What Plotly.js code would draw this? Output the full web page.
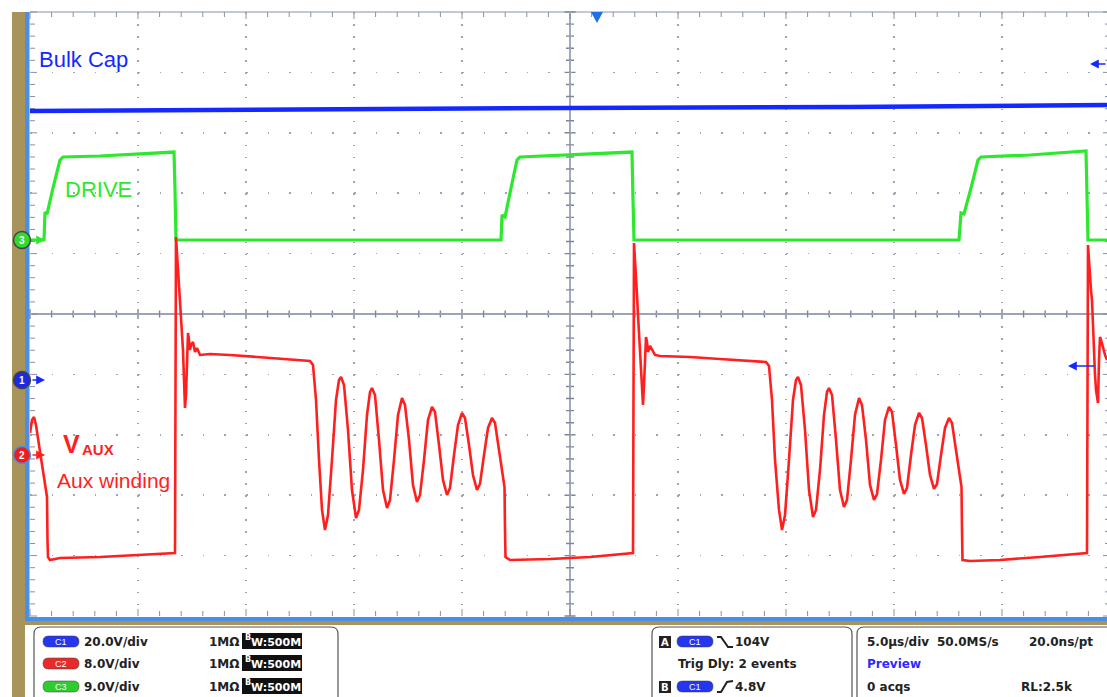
<!DOCTYPE html>
<html><head><meta charset="utf-8">
<script src="https://cdn.plot.ly/plotly-3.0.1.min.js"></script>
<style>html,body{margin:0;padding:0;background:#fff;overflow:hidden}#chart{width:1107px;height:697px}</style>
</head><body><div id="chart"></div>
<script>
// ---- data (time in µs, voltage in V) ----
const bulkT = [-25.0, -12.5, 0.0, 12.96, 24.86];
const bulkV = [89.07, 89.74, 90.07, 90.40, 91.06];

const driveT = [-25.0,-24.444,-24.352,-24.306,-24.213,-23.935,-23.611,-23.472,-21.759,-19.907,-18.333,-18.287,-18.241,-12.5,-3.194,-3.148,-3.009,-2.731,-2.454,-2.315,0.0,2.870,2.917,2.963,10.648,18.009,18.102,18.241,18.565,18.889,19.028,21.296,23.889,23.935,23.981,24.861];
const driveV = [0,0,0,4.17,3.87,7.75,11.92,12.37,12.52,12.82,13.11,7.45,0,0,0,3.73,3.43,7.75,11.92,12.37,12.67,13.11,5.96,0,0,0,4.02,3.87,7.75,11.92,12.37,12.67,13.26,3.43,0,0];

const auxT = [
-25.000,-24.907,-24.815,-24.722,-24.583,-24.444,-24.306,-24.213,-24.190,-24.167,-24.074,-23.611,-21.759,-19.907,-18.287,
-18.241,-18.194,-18.148,-18.102,-18.056,-18.009,-17.963,-17.917,-17.870,-17.824,-17.778,-17.731,-17.685,-17.639,-17.593,-17.546,-17.454,-17.361,-17.269,-17.130,-16.667,-15.741,-14.352,-12.963,-12.037,
-11.898,-11.759,-11.620,-11.481,-11.343,-11.204,-11.019,-10.833,-10.694,-10.602,-10.463,-10.278,-10.093,-9.907,-9.769,-9.583,-9.398,-9.259,-9.167,-9.028,-8.843,-8.657,-8.472,-8.333,-8.148,-7.963,-7.778,-7.639,-7.454,-7.269,-7.083,-6.944,-6.759,-6.574,-6.389,-6.250,-6.065,-5.880,-5.694,-5.556,-5.370,-5.185,-5.000,-4.861,-4.676,-4.491,-4.306,-4.167,-3.981,-3.796,-3.611,-3.472,-3.287,-3.102,-3.032,-3.009,-2.986,-2.778,-0.926,0.926,2.917,
2.963,3.009,3.056,3.102,3.148,3.194,3.241,3.287,3.333,3.380,3.426,3.472,3.519,3.565,3.611,3.704,3.796,3.935,4.167,5.556,6.944,8.333,9.074,
9.213,9.352,9.491,9.676,9.815,9.954,10.139,10.324,10.463,10.556,10.694,10.880,11.065,11.250,11.389,11.574,11.759,11.898,11.991,12.130,12.315,12.500,12.685,12.824,13.009,13.194,13.380,13.519,13.704,13.889,14.074,14.213,14.398,14.583,14.769,14.907,15.093,15.278,15.463,15.602,15.787,15.972,16.157,16.296,16.481,16.667,16.852,16.991,17.176,17.361,17.546,17.685,17.870,18.056,18.125,18.148,18.171,18.519,19.907,21.759,23.935,
23.981,24.028,24.074,24.120,24.167,24.213,24.259,24.306,24.352,24.398,24.444,24.491,24.537,24.583,24.676,24.769,24.861];
const auxV = [
2.91,4.64,5.03,3.97,1.32,-1.32,-3.58,-5.56,-11.26,-13.51,-13.91,-13.64,-13.51,-13.25,-12.98,
28.87,26.49,25.17,22.52,20.53,18.54,16.56,13.91,9.93,6.23,7.95,12.58,16.16,15.23,13.91,14.57,14.97,13.64,14.17,13.25,13.38,13.25,12.98,12.72,12.45,
11.92,7.28,-0.66,-7.28,-9.93,-7.95,-0.66,7.28,9.93,10.33,9.27,3.31,-4.64,-8.34,-7.28,-1.99,5.30,8.34,8.87,7.95,1.99,-4.64,-7.02,-5.96,-0.66,5.30,7.55,6.62,1.99,-3.97,-6.23,-5.30,-0.66,4.64,6.36,5.70,1.32,-3.31,-5.30,-4.37,0.00,3.97,5.56,4.90,1.32,-2.65,-4.64,-3.84,0.00,3.58,4.90,4.24,0.66,-3.31,-4.24,-9.93,-13.51,-13.91,-13.77,-13.51,-12.98,
28.08,26.09,23.84,21.19,18.54,15.89,13.25,10.60,7.95,6.62,9.27,13.91,15.63,14.97,13.64,14.44,13.91,13.25,13.11,12.98,12.72,12.45,12.32,
11.79,7.28,-0.66,-7.28,-9.93,-7.95,-0.66,7.28,9.93,10.33,9.27,3.31,-4.64,-8.21,-7.28,-1.99,5.30,8.34,8.87,7.95,1.99,-4.64,-6.89,-5.96,-0.66,5.30,7.55,6.62,1.99,-3.97,-5.96,-5.17,-0.66,4.64,6.36,5.70,1.32,-3.31,-5.17,-4.37,0.00,3.97,5.56,4.90,1.32,-2.65,-4.50,-3.84,0.00,3.58,4.90,4.24,0.66,-3.31,-4.24,-9.93,-13.91,-14.04,-13.91,-13.51,-12.98,
27.81,26.23,23.84,21.85,20.53,17.22,13.25,10.60,8.61,7.28,6.89,12.58,15.63,15.23,14.17,13.25,12.58];

const channelNames = ['C1', 'C2', 'C3'];
const voltsPerDiv = [20.0, 8.0, 9.0];
const groundDiv = [-1.093, -2.334, 1.225];   // channel ground marker, in divisions from centre
const channelLabels = ['Bulk Cap', 'DRIVE', 'Aux winding'];
const infoScale = ['20.0V/div', '8.0V/div', '9.0V/div'];
const timeInfo = ['5.0µs/div', '50.0MS/s', '20.0ns/pt', 'Preview', '0 acqs', 'RL:2.5k'];
const trigInfo = ['104V', 'Trig Dly: 2 events', '4.8V'];

// volts -> screen divisions for channel i (scope vertical scale + position)
const toDiv = (vals, i) => vals.map(v => v / voltsPerDiv[i] + groundDiv[i]);

// ---- colours / geometry (styling only) ----
const BLUE = '#1428ff', RED = '#ff1f1f', GREEN = '#2ee82e';
const L = 30, T = 12, W = 1077, H = 604;
const X = p => (p - L) / W, Y = p => (T + H - p) / H;

const gridCol = '#9da5b6', tickCol = '#8890a4', axCol = '#7c869a';
const UIF = 'DejaVu Sans, Verdana, sans-serif';
const ARF = 'Liberation Sans, Arial, sans-serif';

function rect(x0, y0, x1, y1, fill, line) {
  return {type:'rect', xref:'paper', yref:'paper', x0:X(x0), x1:X(x1), y0:Y(y1), y1:Y(y0),
          fillcolor:fill, line:line || {width:0}, layer:'above'};
}
function P(x, y) { return X(x).toFixed(5) + ',' + Y(y).toFixed(5); }
function rr(x0, y0, x1, y1, r) {
  return 'M' + P(x0 + r, y0) + ' L' + P(x1 - r, y0) + ' Q' + P(x1, y0) + ' ' + P(x1, y0 + r) +
    ' L' + P(x1, y1 - r) + ' Q' + P(x1, y1) + ' ' + P(x1 - r, y1) + ' L' + P(x0 + r, y1) +
    ' Q' + P(x0, y1) + ' ' + P(x0, y1 - r) + ' L' + P(x0, y0 + r) + ' Q' + P(x0, y0) + ' ' + P(x0 + r, y0) + ' Z';
}
function pathShape(d, fill, line, layer) {
  return {type:'path', xref:'paper', yref:'paper', path:d, fillcolor:fill, line:line || {width:0}, layer:layer || 'above'};
}
function txt(x, y, s, size, color, family, weight, anchor) {
  return {xref:'paper', yref:'paper', x:X(x), y:Y(y), text:s, showarrow:false,
          xanchor:anchor || 'left', yanchor:'middle', borderpad:0,
          font:{size:size, color:color, family:family, weight:weight || 'normal'}};
}
function arrow(xTip, y, dx, color) {
  return {xref:'paper', yref:'paper', x:X(xTip), y:Y(y), ax:dx, ay:0, text:'', showarrow:true,
          arrowhead:2, arrowsize:1.1, arrowwidth:1.6, arrowcolor:color};
}

const shapes = [];
const annotations = [];

// graticule ticks (frame edges and centre cross), 5 minor per division
const DX = 21.6, DY = 12.08, XC = 570, YC = 314, RIGHT = 1110, BOT = 616;
let edge = 'M' + P(L, T) + ' L' + P(RIGHT, T);
let cross = 'M' + P(L, YC) + ' L' + P(RIGHT, YC) + ' M' + P(XC, T) + ' L' + P(XC, BOT);
for (let i = 0; i <= 50; i++) {
  const px = L + i * DX, major = i % 5 === 0;
  const le = major ? 7 : 5, lc = major ? 5 : 3.5;
  edge += ' M' + P(px, T) + ' L' + P(px, T + le) + ' M' + P(px, BOT) + ' L' + P(px, BOT - le);
  cross += ' M' + P(px, YC - lc) + ' L' + P(px, YC + lc);
  const py = T + i * DY;
  edge += ' M' + P(L, py) + ' L' + P(L + le, py) + ' M' + P(RIGHT, py) + ' L' + P(RIGHT - le, py);
  cross += ' M' + P(XC - lc - 0.5, py) + ' L' + P(XC + lc + 0.5, py);
}
shapes.push(pathShape(edge, 'rgba(0,0,0,0)', {color:tickCol, width:1}, 'below'));
shapes.push(pathShape(cross, 'rgba(0,0,0,0)', {color:axCol, width:1.4}, 'below'));

// scope frame
shapes.push(rect(12, 12, 25, 697, '#a8935a'));
shapes.push(rect(12, 621, 1107, 625, '#a8935a'));
shapes.push(rect(25, 12, 29.5, 621, '#4b8ee6'));
shapes.push(rect(25, 617, 1107, 621, '#4b8ee6'));
// trigger position triangle
shapes.push(pathShape('M' + P(591, 12) + ' L' + P(603, 12) + ' L' + P(597, 23) + ' Z', '#1f6fe8'));

// channel ground markers
const markerY = [380, 455, 240];
const markerFill = ['#1d2ae0', '#ee1c1c', '#30d830'];
const markerLine = ['#444', '#4b8ee6', '#444'];
const traceCol = [BLUE, RED, GREEN];
for (let i = 0; i < 3; i++) {
  shapes.push({type:'circle', xref:'paper', yref:'paper', x0:X(13.5), x1:X(30.5), y0:Y(markerY[i] + 8.5), y1:Y(markerY[i] - 8.5),
               fillcolor:markerFill[i], line:{color:markerLine[i], width:1.5}, layer:'above'});
  annotations.push(txt(22, markerY[i], String(i + 1), 10, '#fff', ARF, 'bold', 'center'));
  annotations.push(arrow(45, markerY[i], -14, traceCol[i]));
}
// right-side offset arrows
annotations.push(arrow(1090, 64, 18, BLUE));
annotations.push(arrow(1068, 366, 28, BLUE));

// waveform labels
annotations.push(txt(38, 59, channelLabels[0], 22, BLUE, ARF));
annotations.push(txt(64, 189, channelLabels[1], 22, GREEN, ARF));
annotations.push(txt(62, 444, 'V', 25, RED, ARF, 'bold'));
annotations.push(txt(81, 449, 'AUX', 15, RED, ARF, 'bold'));
annotations.push(txt(56, 480, channelLabels[2], 21, RED, ARF));

// info panel boxes
shapes.push(pathShape(rr(34, 627, 338, 712, 7), 'rgba(0,0,0,0)', {color:'#555', width:1.2}));
shapes.push(pathShape(rr(652, 627, 852, 712, 7), 'rgba(0,0,0,0)', {color:'#555', width:1.2}));
shapes.push(pathShape(rr(857, 627, 1114, 712, 7), 'rgba(0,0,0,0)', {color:'#555', width:1.2}));

function pill(x0, yc, color, label) {
  shapes.push(pathShape(rr(x0, yc - 5.5, x0 + 36, yc + 5.5, 5.5), color, {color:'rgba(60,60,60,0.5)', width:1}));
  annotations.push(txt(x0 + 18, yc, label, 9, '#fff', ARF, 'normal', 'center'));
}
const rowY = [642, 664, 687];
const pillCol = ['#2536f0', '#e82a2a', '#2fcc2f'];
for (let i = 0; i < 3; i++) {
  pill(43, rowY[i] - 0.5, pillCol[i], channelNames[i]);
  annotations.push(txt(83, rowY[i], infoScale[i], 12, '#222', UIF, 'bold'));
  annotations.push(txt(208, rowY[i], '1MΩ', 12, '#222', UIF, 'bold'));
  shapes.push(rect(242, rowY[i] - 9, 302, rowY[i] + 7, '#111'));
  annotations.push(txt(244, rowY[i] - 4.5, 'B', 8, '#fff', UIF, 'bold'));
  annotations.push(txt(250, rowY[i] + 0.5, 'W:500M', 11, '#fff', UIF, 'bold'));
}
// trigger box
shapes.push(rect(659, 636, 671, 648, '#222'));
annotations.push(txt(665, 642, 'A', 10, '#fff', UIF, 'bold', 'center'));
pill(677, 641.5, pillCol[0], channelNames[0]);
shapes.push(pathShape('M' + P(717, 637) + ' L' + P(721, 637) + ' L' + P(728, 647) + ' L' + P(733, 647), 'rgba(0,0,0,0)', {color:'#222', width:2}));
annotations.push(txt(734, rowY[0], trigInfo[0], 12, '#222', UIF, 'bold'));
annotations.push(txt(677, rowY[1], trigInfo[1], 12, '#222', UIF, 'bold'));
shapes.push(rect(659, 681, 671, 693, '#222'));
annotations.push(txt(665, 687, 'B', 10, '#fff', UIF, 'bold', 'center'));
pill(677, 686.5, pillCol[0], channelNames[0]);
shapes.push(pathShape('M' + P(717, 692) + ' L' + P(721, 692) + ' L' + P(727, 682) + ' L' + P(733, 681), 'rgba(0,0,0,0)', {color:'#222', width:2}));
annotations.push(txt(734, rowY[2], trigInfo[2], 12, '#222', UIF, 'bold'));
// timebase box
annotations.push(txt(866, rowY[0], timeInfo[0], 12, '#222', UIF, 'bold'));
annotations.push(txt(936, rowY[0], timeInfo[1], 12, '#222', UIF, 'bold'));
annotations.push(txt(1028, rowY[0], timeInfo[2], 12, '#222', UIF, 'bold'));
annotations.push(txt(866, rowY[1], timeInfo[3], 12, '#2b2bff', UIF, 'bold'));
annotations.push(txt(866, rowY[2], timeInfo[4], 12, '#222', UIF, 'bold'));
annotations.push(txt(1020, rowY[2], timeInfo[5], 12, '#222', UIF, 'bold'));

// ---- traces ----
const traces = [
  {x:bulkT, y:toDiv(bulkV, 0), mode:'lines', line:{color:BLUE, width:4.5}, name:channelNames[0], hoverinfo:'skip'},
  {x:driveT, y:toDiv(driveV, 2), mode:'lines', line:{color:GREEN, width:3.2}, name:channelNames[2], hoverinfo:'skip'},
  {x:auxT, y:toDiv(auxV, 1), mode:'lines', line:{color:RED, width:2.6}, name:channelNames[1], hoverinfo:'skip'}
];

const layout = {
  width:1107, height:697, margin:{l:L, r:0, t:T, b:697 - T - H},
  paper_bgcolor:'#fff', plot_bgcolor:'rgba(0,0,0,0)', showlegend:false,
  xaxis:{range:[-25, 24.861], fixedrange:true, showticklabels:false, zeroline:false, showline:false, ticks:'',
         dtick:5, tick0:0, showgrid:true, gridcolor:gridCol, gridwidth:1.5, griddash:'1.5px,10.58px'},
  yaxis:{range:[-5, 5], fixedrange:true, showticklabels:false, zeroline:false, showline:false, ticks:'',
         dtick:1, tick0:0, showgrid:true, gridcolor:gridCol, gridwidth:1.5, griddash:'1.5px,20.1px'},
  shapes:shapes, annotations:annotations
};

Plotly.newPlot('chart', traces, layout, {staticPlot:true, displayModeBar:false});
</script>
</body></html>
